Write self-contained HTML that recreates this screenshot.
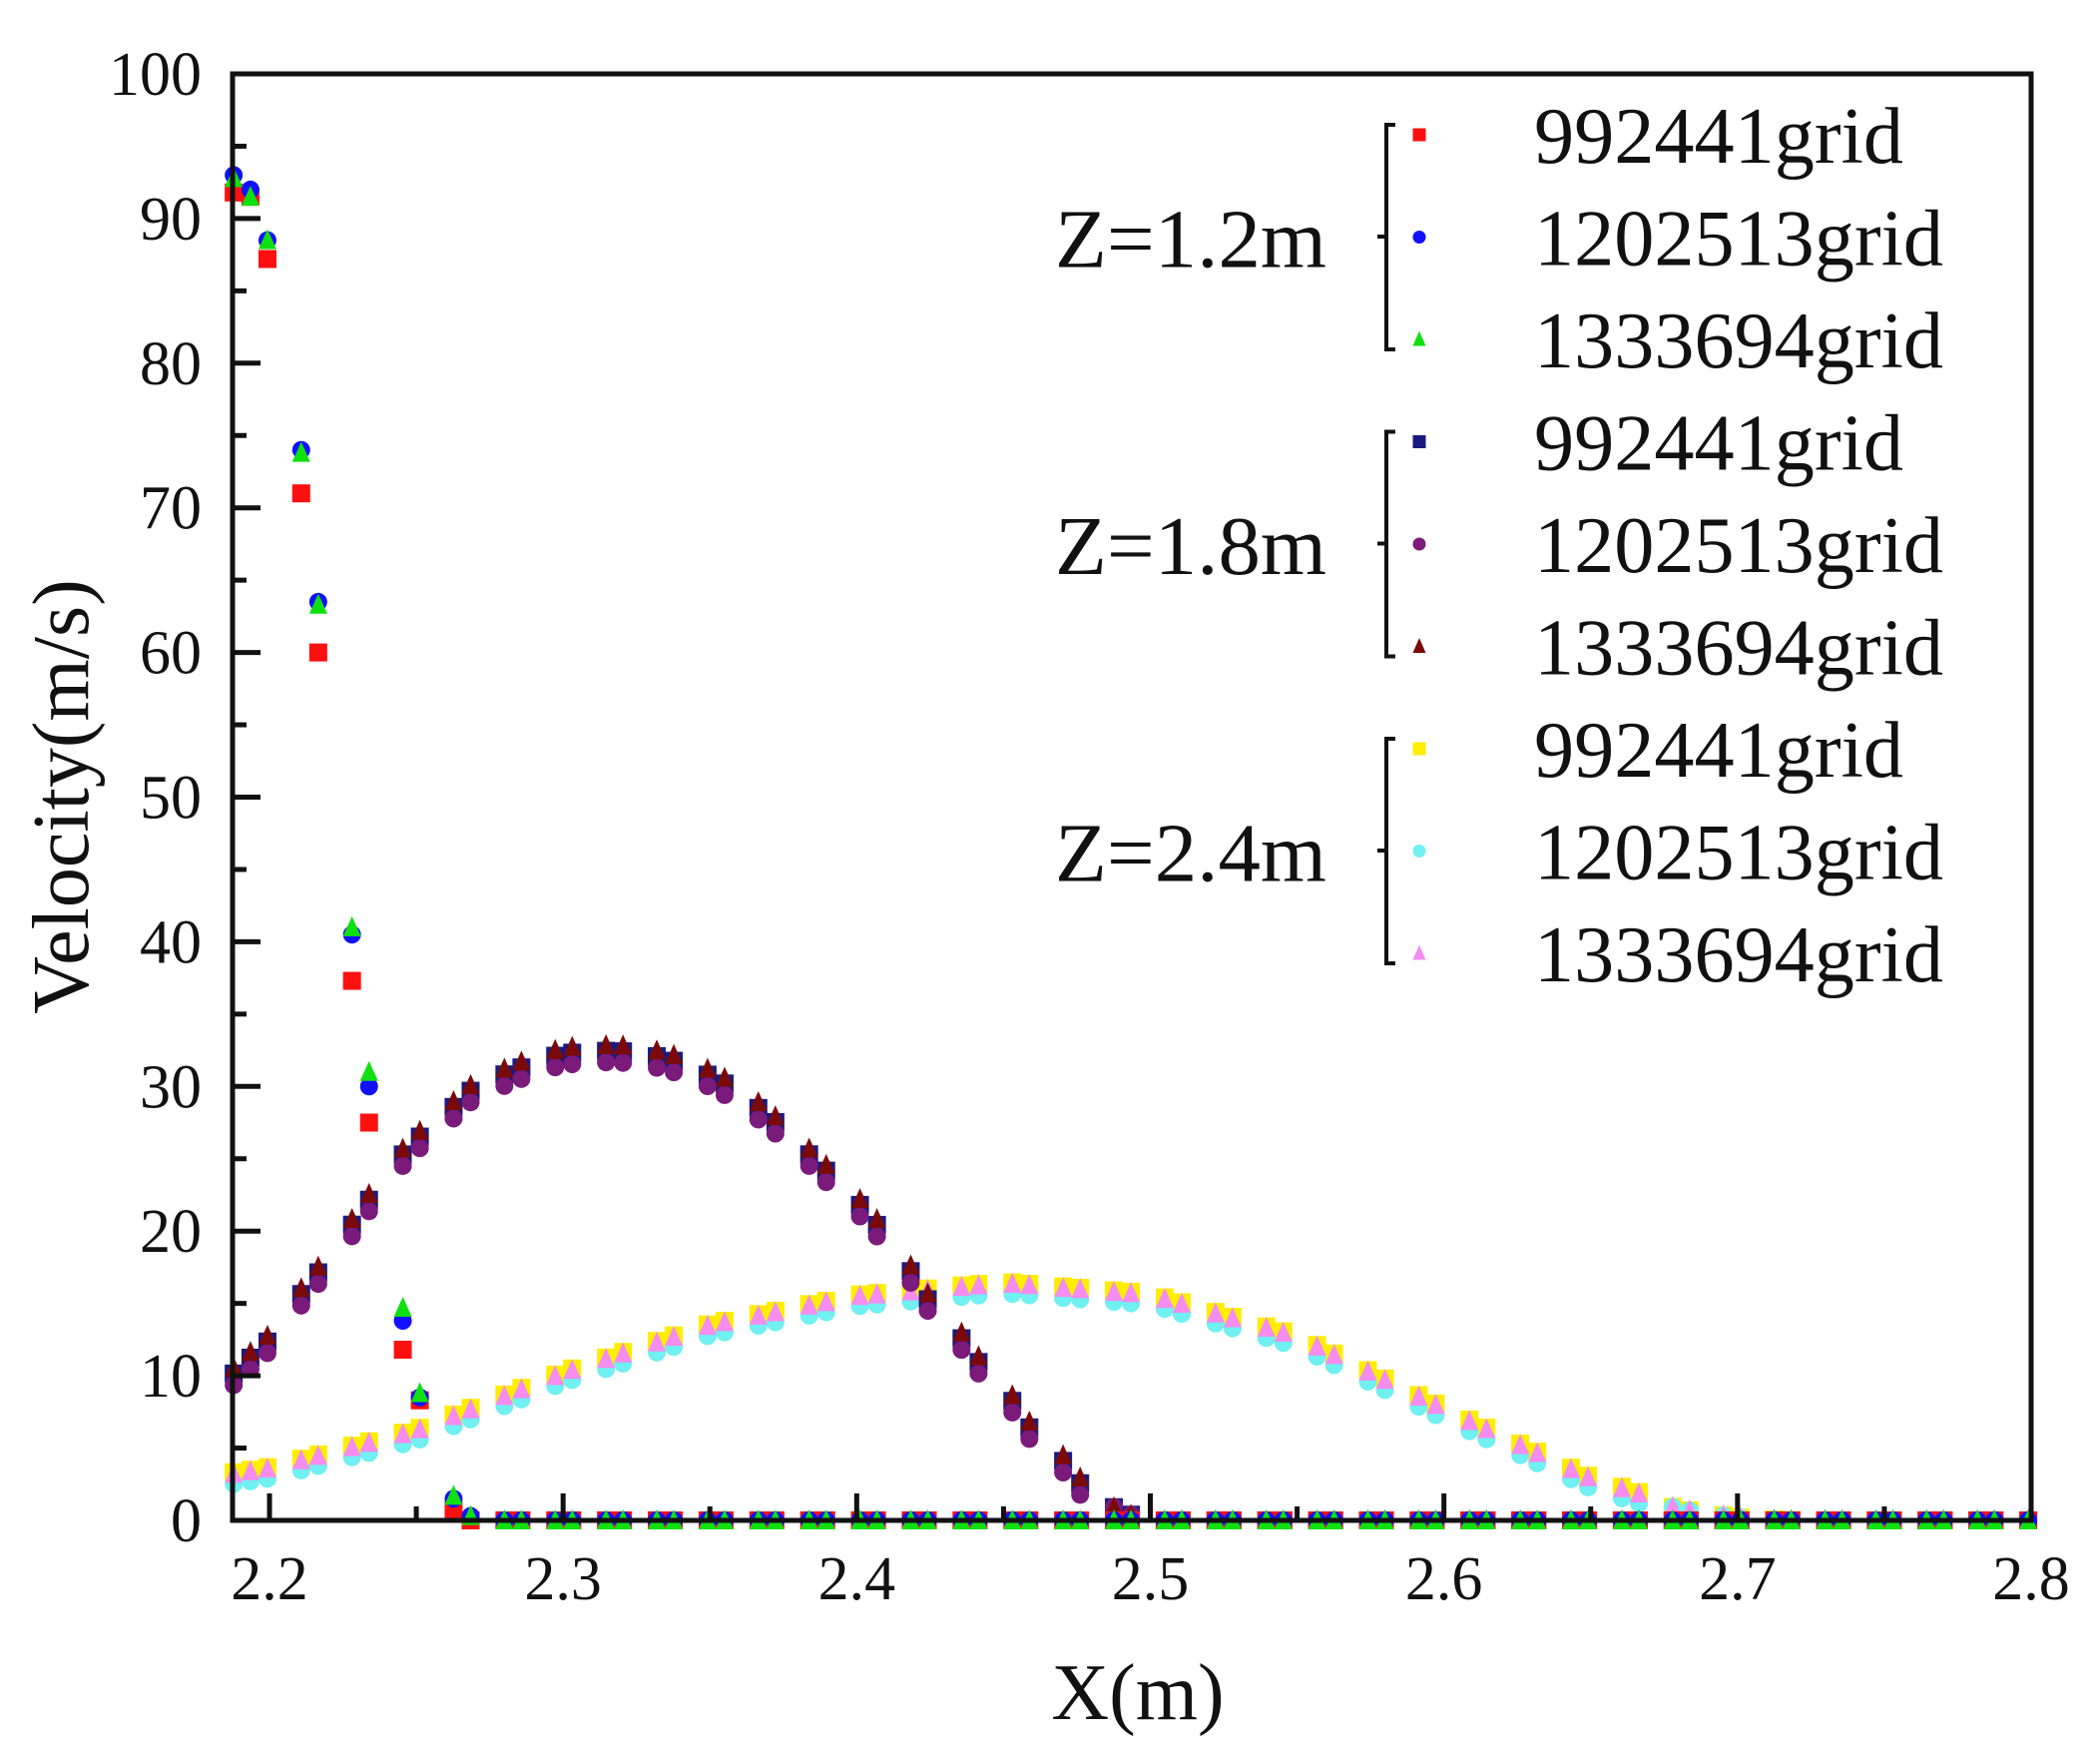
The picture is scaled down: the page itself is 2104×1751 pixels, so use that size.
<!DOCTYPE html>
<html><head><meta charset="utf-8"><style>
html,body{margin:0;padding:0;background:#fff;}
svg{display:block;}
</style></head><body>
<svg id="s" width="2104" height="1751" viewBox="0 0 2104 1751" xmlns="http://www.w3.org/2000/svg" font-family="'Liberation Serif', 'Times New Roman', serif" fill="#111">
<g id="data"></g>
<rect x="233" y="74" width="1802" height="1449" fill="none" stroke="#111" stroke-width="5"/>
<g id="ticks" stroke="#111" stroke-width="5"></g>
<g font-size="62" text-anchor="middle" id="xl"></g>
<g font-size="62" text-anchor="end" id="yl"></g>
<text x="1140" y="1722" font-size="80" text-anchor="middle">X(m)</text>
<text transform="translate(88,798) rotate(-90)" font-size="80" text-anchor="middle">Velocity(m/s)</text>
<g id="leg"></g>
</svg>
<script>
const NS="http://www.w3.org/2000/svg";
const X0=233,X1=2035,Y0=1523,Y1=74;
const xmin=2.2-37/2940,xmax=2.8;
const sx=x=>X0+(x-xmin)/(xmax-xmin)*(X1-X0);
const sy=y=>Y0-y/100*(Y0-Y1);
function el(p,t,a,txt){const e=document.createElementNS(NS,t);for(const k in a)e.setAttribute(k,a[k]);if(txt!==undefined)e.textContent=txt;p.appendChild(e);return e;}
const T=document.getElementById('ticks');
for(let i=0;i<=12;i++){const x=sx(2.2+i*0.05);if(x>X1-2)continue;const L=i%2==0?27:14;el(T,'line',{x1:x,y1:Y0,x2:x,y2:Y0-L});}
for(let i=0;i<=20;i++){const y=sy(i*5);const L=i%2==0?28:14;el(T,'line',{x1:X0,y1:y,x2:X0+L,y2:y});}
const XL=document.getElementById('xl');
for(let i=0;i<=6;i++){el(XL,'text',{x:sx(2.2+i*0.1),y:1602},(2.2+i*0.1).toFixed(1));}
const YL=document.getElementById('yl');
for(let i=0;i<=10;i++){el(YL,'text',{x:202,y:sy(i*10)+21},String(i*10));}
let G=[2.1878];
for(let k=0;k<40;k++){for(const o of [0,0.0058]){const x=2.1935+k*0.0173+o;if(x<=2.801)G.push(x);}}
function interp(pts,x){if(x<=pts[0][0])return pts[0][1];for(let i=1;i<pts.length;i++){if(x<=pts[i][0]){const a=pts[i-1],b=pts[i];return a[1]+(b[1]-a[1])*(x-a[0])/(b[0]-a[0]);}}return pts[pts.length-1][1];}
const D=document.getElementById('data');
function mark(type,color,x,y,s,p){p=p||D;s=s||18;const h=s/2;
 if(type=='s')el(p,'rect',{x:x-h,y:y-h,width:s,height:s,fill:color});
 else if(type=='c')el(p,'circle',{cx:x,cy:y,r:h,fill:color});
 else el(p,'polygon',{points:`${x},${y-h-2} ${x-h},${y+h} ${x+h},${y+h}`,fill:color});}
const off=(v,o)=>v<1?v:v+o;
const c24=[[2.187,3],[2.2,3.4],[2.25,6],[2.3,10],[2.35,13.3],[2.4,15.3],[2.45,16.2],[2.5,15.4],[2.55,12.5],[2.6,7.5],[2.65,2.7],[2.68,0.8],[2.7,0.2],[2.72,0],[2.9,0]];
G.forEach(x=>{const v=interp(c24,x);mark('s','#ffee00',sx(x),sy(off(v,0.3)));});
G.forEach(x=>{const v=interp(c24,x);mark('c','#70f0f0',sx(x),sy(off(v,-0.5)));});
G.forEach(x=>{const v=interp(c24,x);mark('t','#f58cf0',sx(x),sy(off(v,0.2)));});
const c18=[[2.187,10],[2.2,12.5],[2.212,16],[2.218,17.5],[2.23,21],[2.235,22.5],[2.248,26],[2.254,27],[2.265,29],[2.27,30],[2.282,31],[2.288,31.5],[2.3,32.3],[2.318,32.5],[2.335,32],[2.353,30.5],[2.37,28],[2.375,27],[2.388,24.5],[2.393,23.5],[2.405,21],[2.41,19.5],[2.42,16.8],[2.425,15],[2.437,12.3],[2.442,10.8],[2.455,7.8],[2.46,6],[2.472,3.8],[2.477,2.3],[2.49,0.6],[2.5,0],[2.9,0]];
G.forEach(x=>{const v=interp(c18,x);mark('s','#1a1a80',sx(x),sy(v));});
G.forEach(x=>{const v=interp(c18,x);mark('c','#7a1a7a',sx(x),sy(off(v,-0.8)));});
G.forEach(x=>{const v=interp(c18,x);mark('t','#7a0a0a',sx(x),sy(off(v,0.4)));});
const red=[91.8,91.5,87.2,71,60,37.3,27.5,11.8,8.3,0.7,0];
const blue=[93,92,88.5,74,63.5,40.5,30,13.8,8.5,1.5,0.3];
const grn=[92.8,91.5,88.5,73.8,63.3,41,31,14.7,8.8,1.7,0.3];
G.forEach((x,i)=>{mark('s','#ff1010',sx(x),sy(i<red.length?red[i]:0));});
G.forEach((x,i)=>{mark('c','#1010ff',sx(x),sy(i<blue.length?blue[i]:0));});
G.forEach((x,i)=>{mark('t','#10e010',sx(x),sy(i<grn.length?grn[i]:0));});
const LG=document.getElementById('leg');
const groups=[["Z=1.2m",[["s","#ff1010"],["c","#1010ff"],["t","#10e010"]]],["Z=1.8m",[["s","#1a1a80"],["c","#7a1a7a"],["t","#7a0a0a"]]],["Z=2.4m",[["s","#ffee00"],["c","#70f0f0"],["t","#f58cf0"]]]];
const names=["992441grid","1202513grid","1333694grid"];
groups.forEach((g,gi)=>{
 const c0=135+gi*307.5;
 el(LG,'text',{x:1057,y:c0+102.5+30,'font-size':84,textLength:272,lengthAdjust:'spacingAndGlyphs'},g[0]);
 el(LG,'path',{d:`M1398 ${c0-10} L1389 ${c0-10} L1389 ${c0+215} L1398 ${c0+215} M1389 ${c0+102} L1380 ${c0+102}`,fill:'none',stroke:'#111','stroke-width':4});
 g[1].forEach((m,j)=>{const cy=c0+j*102.5;
  mark(m[0],m[1],1422,cy,13,LG);
  const w=j==0?370:410;
  el(LG,'text',{x:1537,y:cy+28,'font-size':80,textLength:w,lengthAdjust:'spacingAndGlyphs'},names[j]);});
});
</script>
</body></html>
